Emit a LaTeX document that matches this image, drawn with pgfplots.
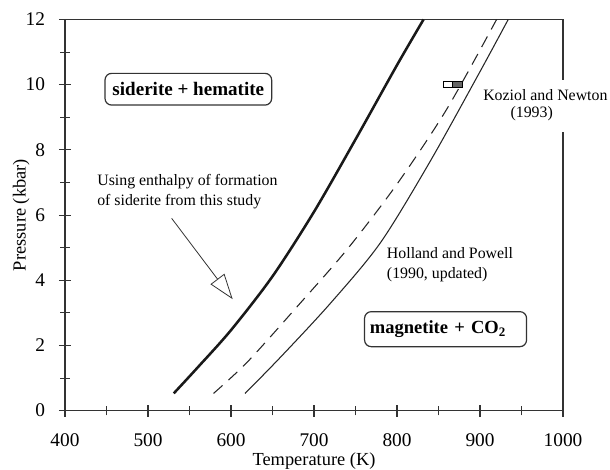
\documentclass[border=0pt]{standalone}
\usepackage{fontspec}
\setmainfont{Liberation Serif}
\usepackage{pgfplots}
\pgfplotsset{compat=1.18}
\usetikzlibrary{arrows.meta}
\begin{document}
\begin{tikzpicture}
\begin{axis}[
 scale only axis, width=373.5pt, height=293.4pt,
 xmin=400, xmax=1000, ymin=0, ymax=12,
 xtick={400,500,...,1000}, minor xtick={450,550,...,950},
 ytick={0,2,...,12}, minor ytick={1,3,...,11},
 tick align=center, xtick pos=bottom, ytick pos=left,
 major tick length=9pt, minor tick length=7pt,
 tick style={black!80, line width=0.8pt},
 axis line style={black!80, line width=0.9pt},
 /pgf/number format/assume math mode=true,
 /pgf/number format/1000 sep={},
 tick label style={font=\fontsize{14.5}{16}\selectfont},
 xticklabel style={yshift=-9pt},
 yticklabel style={xshift=-7pt},
 xlabel={Temperature (K)}, ylabel={Pressure (kbar)},
 label style={font=\fontsize{13.8}{16}\selectfont},
 x label style={at={(axis description cs:0.5,-0.1295)}, anchor=center},
 y label style={at={(axis description cs:-0.088,0.5)}, anchor=center},
 clip=false,
]
% this study (thick)
\addplot[black!90, line width=1.9pt, smooth] coordinates {
(531,0.53) (560,1.33) (600,2.47) (650,4.12) (700,6.10) (750,8.32) (800,10.6) (832,12)};
% dashed
\addplot[black!85, line width=0.8pt, dash pattern=on 9pt off 6pt, smooth] coordinates {
(579,0.53) (620,1.5) (680,3.2) (740,4.95) (800,6.95) (860,9.25) (920,12)};
% Holland and Powell (thin)
\addplot[black!85, line width=0.8pt, smooth] coordinates {
(617,0.53) (660,1.65) (720,3.3) (780,5.15) (840,7.65) (900,10.4) (934,12)};
% Koziol and Newton bracket
\addplot[draw=black, line width=0.6pt, fill=white] coordinates {(856,9.91) (867,9.91) (867,10.1) (856,10.1)} -- cycle;
\addplot[draw=black, line width=0.6pt, fill=black!60] coordinates {(867,9.91) (879,9.91) (879,10.1) (867,10.1)} -- cycle;

\fill[white] (axis cs:990,8.55) rectangle (axis cs:1010,10.14);
\node[font=\fontsize{11.9}{15}\selectfont, inner sep=0pt, anchor=west] at (axis cs:903.6,9.68) {Koziol and Newton};
\node[font=\fontsize{11.9}{15}\selectfont, inner sep=0pt] at (axis cs:962.3,9.12) {(1993)};

\node[draw=black!80, line width=0.9pt, rounded corners=5pt, minimum width=125pt, minimum height=23.8pt, inner sep=0pt, font=\bfseries\fontsize{14.3}{16}\selectfont] at (axis cs:548.6,9.86) {siderite + hematite};
\node[draw=black!80, line width=0.9pt, rounded corners=5pt, anchor=west, text width=113.5pt, inner xsep=4pt, minimum height=26.25pt, align=left, font=\bfseries\fontsize{13.9}{16}\selectfont] at (axis cs:760.2,2.5) {magnetite + CO\textsubscript{2}};

\node[anchor=west, align=left, inner sep=0pt, font=\fontsize{11.9}{15}\selectfont] at (axis cs:438.6,6.71) {Using enthalpy of formation\\of siderite from this study};
\node[anchor=west, align=left, inner sep=0pt, font=\fontsize{11.9}{15}\selectfont] at (axis cs:787.6,4.47) {Holland and Powell\\(1990, updated)};

\draw[black!80, line width=0.6pt, -{Triangle[open, length=19pt, width=13pt, fill=white]}] (axis cs:528.5,5.9) -- (axis cs:602,3.42);
\end{axis}
\pgfresetboundingbox
\path (current axis.south west) ++(-48.75pt,-44.5pt) rectangle ++(457.5pt,352.5pt);
\end{tikzpicture}
\end{document}
